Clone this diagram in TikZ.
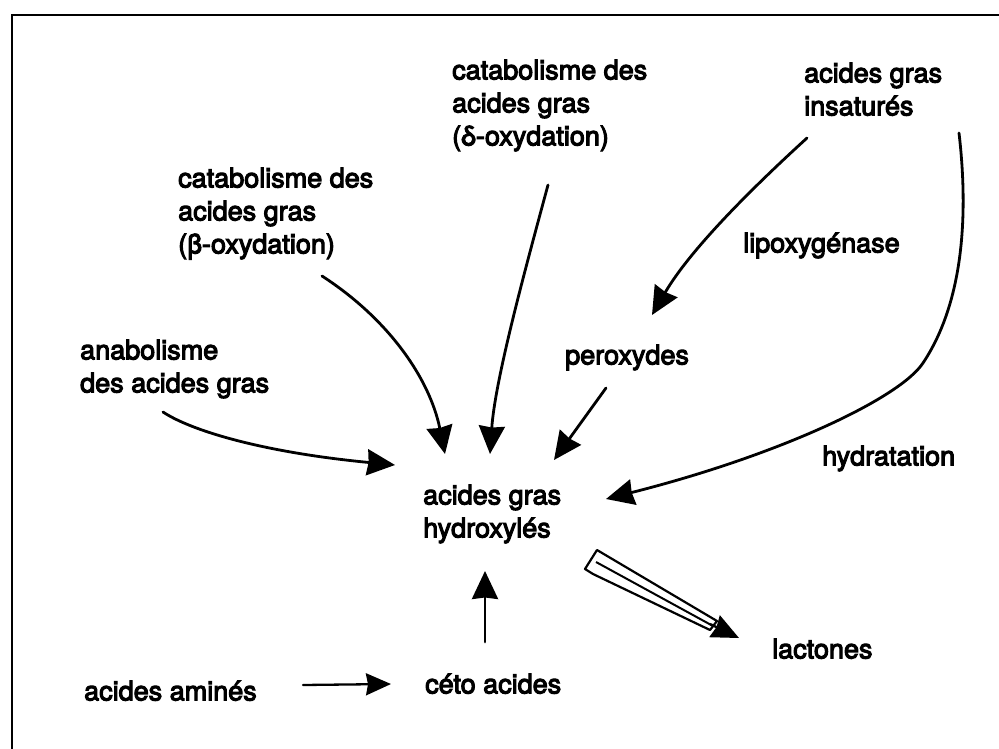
\documentclass[tikz,border=0pt]{standalone}
\usepackage{fontspec}
\setmainfont{TeX Gyre Heros}
\newfontfamily\lblfont{TeX Gyre Heros}[FakeBold=4]
\usetikzlibrary{arrows.meta}
\begin{document}
\begin{tikzpicture}[x=1pt,y=-1pt,
  lbl/.style={anchor=north west, inner sep=0pt, align=left, font=\lblfont\fontsize{27}{33}\selectfont},
  conn/.style={line width=2.8pt, line cap=round, -{Stealth[length=28pt,width=26pt,inset=1.5pt]}},
  thinconn/.style={line width=2.3pt, line cap=round, -{Stealth[length=25pt,width=22pt,inset=2pt]}},
]
\useasboundingbox (0,0) rectangle (999,749);
\fill[white] (0,0) rectangle (999,749);
\begin{scope}
\clip (0,0) rectangle (999,749);
\draw[line width=2.4pt] (12,760) -- (12,15) -- (1010,15);
\end{scope}

% labels
\node[lbl] (beta) at (178,167.5) {catabolisme des\\acides gras\\(β-oxydation)};
\node[lbl] (delta) at (452,59.5) {catabolisme des\\acides gras\\(δ-oxydation)};
\node[lbl] (insat) at (804,62.5) {acides gras\\insaturés};
\node[lbl] (lipo) at (743,232.5) {lipoxygénase};
\node[lbl] (ana) at (80,339.5) {anabolisme\\des acides gras};
\node[lbl] (perox) at (565,344.5) {peroxydes};
\node[lbl] (hydra) at (822,445.5) {hydratation};
\node[lbl] (hoxy) at (423,484.5) {acides gras\\hydroxylés};
\node[lbl] (lact) at (772,638.5) {lactones};
\node[lbl] (amin) at (84,680.5) {acides aminés};
\node[lbl] (ceto) at (425,673.5) {céto acides};

% connector end points
\coordinate (ana-o) at (163,412);
\coordinate (hoxy-w) at (395,465);
\coordinate (beta-o) at (322,276);
\coordinate (hoxy-nw) at (445,454);
\coordinate (delta-o) at (548,185);
\coordinate (hoxy-n) at (490,454);
\coordinate (insat-o1) at (807,138);
\coordinate (perox-i) at (652,315);
\coordinate (perox-o) at (606,388);
\coordinate (hoxy-ne) at (554,460);
\coordinate (insat-o2) at (959,133);
\coordinate (bend) at (923,363);
\coordinate (hoxy-e) at (606,499);
\coordinate (ceto-o) at (485,642);
\coordinate (hoxy-s) at (485,571);
\coordinate (amin-o) at (303,685);
\coordinate (ceto-i) at (391,684);

% connectors
\draw[conn] (ana-o) .. controls (190,430) and (260,452) .. (hoxy-w);
\draw[conn] (beta-o) .. controls (390,320) and (430,380) .. (hoxy-nw);
\draw[conn] (delta-o) .. controls (525,270) and (495,380) .. (hoxy-n);
\draw[conn] (insat-o1) .. controls (750,190) and (690,250) .. (perox-i);
\draw[conn] (perox-o) -- (hoxy-ne);
\draw[conn] (insat-o2) .. controls (968,210) and (965,300) .. (bend)
   .. controls (900,398) and (780,455) .. (hoxy-e);
\draw[conn] (ceto-o) -- (hoxy-s);
\draw[thinconn] (amin-o) -- (ceto-i);

% hollow arrow to lactones
\coordinate (lac-t1) at (597,550);
\coordinate (lac-t2) at (585,569);
\coordinate (lac-t3) at (593,574);
\coordinate (lac-m) at (596,562);
\coordinate (lac-u) at (717,621);
\coordinate (lac-l) at (710,630);
\coordinate (lac-c) at (713,626);
\coordinate (lact-i) at (739,638);
\draw[line width=2.2pt, line join=round, fill=white] (lac-t1) -- (lac-t2) -- (lac-t3) -- (lac-l) -- (lac-u) -- cycle;
\draw[line width=2pt] (lac-m) -- (lac-c);
\draw[line width=2.4pt, -{Stealth[length=27pt,width=24pt,inset=2pt]}] (710,624) -- (lact-i);
\end{tikzpicture}
\end{document}
